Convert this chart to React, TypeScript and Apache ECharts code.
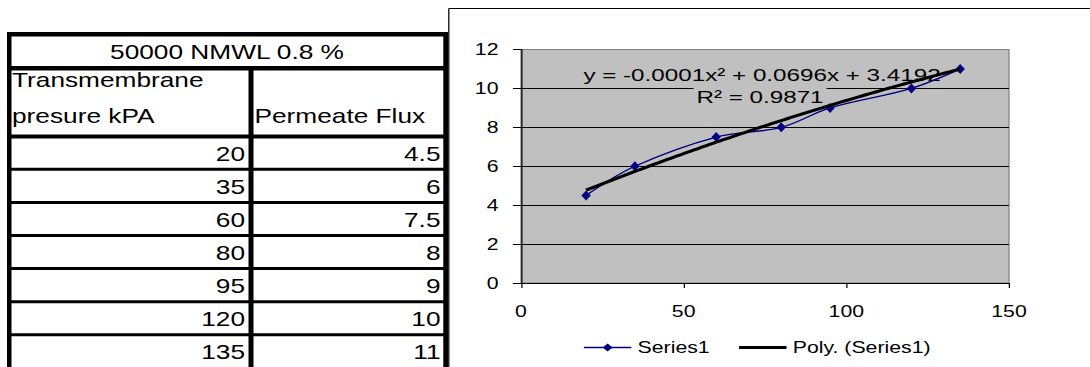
import { useEffect, useRef } from "react";
import * as echarts from "echarts";

// ---- data ----
const tableTitle = "50000 NMWL 0.8 %";
const headerPressure = ["Transmembrane", "presure kPA"];
const headerFlux = "Permeate Flux";
const pressureKPa = [20, 35, 60, 80, 95, 120, 135];
const permeateFlux = [4.5, 6, 7.5, 8, 9, 10, 11];
// second-order trendline: a·x² + b·x + c
const polyCoef = [-0.0001, 0.0696, 3.4192];
const polyR2 = 0.9871;
const seriesName = "Series1";
const trendName = "Poly. (Series1)";
const xAxisRange = { min: 0, max: 150, step: 50 };
const yAxisRange = { min: 0, max: 12, step: 2 };

// ---- layout ----
const OUT_W = 1090;
const H = 367;
const S = 1.25; // horizontal stretch applied to the whole drawing
const IN_W = OUT_W / S;
const FONT = '"Liberation Sans", Arial, Helvetica, sans-serif';

const sx = (v: number) => v / S;

const fmtCoef = (v: number) => v.toFixed(4);
const equationText = `y = ${fmtCoef(polyCoef[0])}x² + ${fmtCoef(polyCoef[1])}x + ${fmtCoef(polyCoef[2])}`;
const r2Text = `R² = ${polyR2.toFixed(4)}`;

function trendPoints(): number[][] {
  const pts: number[][] = [];
  const x0 = pressureKPa[0];
  const x1 = pressureKPa[pressureKPa.length - 1];
  for (let x = x0; x <= x1; x += 1) {
    pts.push([x, polyCoef[0] * x * x + polyCoef[1] * x + polyCoef[2]]);
  }
  return pts;
}

function bar(x0: number, y0: number, x1: number, y1: number) {
  return {
    type: "rect",
    silent: true,
    shape: { x: sx(x0), y: y0, width: sx(x1 - x0), height: y1 - y0 },
    style: { fill: "#000" },
  };
}

function cellText(text: string, x: number, y: number, align: string) {
  return {
    type: "text",
    silent: true,
    x: sx(x),
    y,
    style: {
      text,
      fill: "#000",
      fontSize: 21,
      fontFamily: FONT,
      align,
      verticalAlign: "middle",
    },
  };
}

function buildTable() {
  const els: any[] = [];
  // outer frame and header rules
  els.push(bar(7, 32, 448, 36.5));
  els.push(bar(7, 32, 11.5, H));
  els.push(bar(443.3, 32, 448, H));
  els.push(bar(7, 66, 448, 70.5));
  els.push(bar(248.5, 66, 253.5, H));
  els.push(bar(7, 134.5, 448, 138.5));
  const pitch = 33.1;
  for (let k = 0; k < pressureKPa.length - 1; k++) {
    const c = 169.3 + pitch * k;
    els.push(bar(7, c - 1.5, 448, c + 1.5));
  }
  // texts
  els.push(cellText(tableTitle, 227, 51, "center"));
  els.push(cellText(headerPressure[0], 12, 79.5, "left"));
  els.push(cellText(headerPressure[1], 12, 115, "left"));
  els.push(cellText(headerFlux, 254.5, 115.5, "left"));
  pressureKPa.forEach((p, k) => {
    const cy = 153 + pitch * k;
    els.push(cellText(String(p), 245, cy, "right"));
    els.push(cellText(String(permeateFlux[k]), 440.5, cy, "right"));
  });
  return els;
}

function buildChartDecor() {
  const frameX = sx(448.8);
  return [
    {
      type: "line",
      silent: true,
      shape: { x1: frameX, y1: 8.5, x2: frameX, y2: H },
      style: { stroke: "#000", lineWidth: 1 },
    },
    {
      type: "line",
      silent: true,
      shape: { x1: frameX, y1: 8.5, x2: IN_W, y2: 8.5 },
      style: { stroke: "#000", lineWidth: 1 },
    },
    {
      type: "text",
      silent: true,
      z: 1,
      x: sx(762),
      y: 75,
      scaleX: 1.14,
      style: {
        text: equationText,
        fill: "#000",
        fontSize: 17,
        fontFamily: FONT,
        align: "center",
        verticalAlign: "middle",
      },
    },
    {
      type: "text",
      silent: true,
      z: 1,
      x: sx(760),
      y: 97,
      scaleX: 1.14,
      style: {
        text: r2Text,
        fill: "#000",
        fontSize: 17,
        fontFamily: FONT,
        align: "center",
        verticalAlign: "middle",
        backgroundColor: "#C0C0C0",
        padding: [1, 2, 1, 2],
      },
    },
  ];
}

export default function App() {
  const ref = useRef<HTMLDivElement>(null);

  useEffect(() => {
    if (!ref.current) return;
    const chart = echarts.init(ref.current, null, { renderer: "svg" });
    chart.setOption({
      animation: false,
      backgroundColor: "#fff",
      textStyle: { fontFamily: FONT },
      grid: {
        left: sx(521),
        right: IN_W - sx(1009),
        top: 49.5,
        bottom: H - 283,
        show: true,
        backgroundColor: "#C0C0C0",
        borderColor: "#808080",
        borderWidth: 1,
      },
      xAxis: {
        type: "value",
        min: xAxisRange.min,
        max: xAxisRange.max,
        interval: xAxisRange.step,
        axisLine: { show: true, onZero: false, lineStyle: { color: "#000", width: 1 } },
        axisTick: { show: true, length: 5, lineStyle: { color: "#000", width: 1 } },
        axisLabel: { color: "#000", fontSize: 17, fontFamily: FONT, margin: 20 },
        splitLine: { show: false },
      },
      yAxis: {
        type: "value",
        min: yAxisRange.min,
        max: yAxisRange.max,
        interval: yAxisRange.step,
        axisLine: { show: true, onZero: false, lineStyle: { color: "#000", width: 1 } },
        axisTick: { show: true, length: 6.5, lineStyle: { color: "#000", width: 1 } },
        axisLabel: { color: "#000", fontSize: 17, fontFamily: FONT, margin: 18 },
        splitLine: {
          show: true,
          showMinLine: false,
          showMaxLine: false,
          lineStyle: { color: "#000", width: 1 },
        },
      },
      legend: {
        left: sx(583),
        top: 339,
        padding: 0,
        itemWidth: 38,
        itemHeight: 10,
        itemGap: 22,
        textStyle: { color: "#000", fontSize: 17, fontFamily: FONT },
        data: [
          { name: seriesName, lineStyle: { width: 1.4 } },
          {
            name: trendName,
            lineStyle: { width: 3, color: "#000" },
            itemStyle: { color: "rgba(0,0,0,0)", borderWidth: 0, opacity: 0 },
          },
        ],
      },
      graphic: [...buildTable(), ...buildChartDecor()],
      series: [
        {
          name: seriesName,
          type: "line",
          data: pressureKPa.map((x, i) => [x, permeateFlux[i]]),
          smooth: 0.35,
          symbol: "diamond",
          symbolSize: [7.5, 10],
          lineStyle: { color: "#000080", width: 1.4 },
          itemStyle: { color: "#000080" },
          z: 2,
        },
        {
          name: trendName,
          type: "line",
          data: trendPoints(),
          showSymbol: false,
          symbol: "none",
          lineStyle: { color: "#000", width: 3 },
          itemStyle: { color: "#000" },
          z: 3,
        },
      ],
    });
    return () => chart.dispose();
  }, []);

  return (
    <div
      style={{
        position: "fixed",
        left: 0,
        top: 0,
        width: OUT_W,
        height: H,
        overflow: "hidden",
        background: "#fff",
      }}
    >
      <div
        ref={ref}
        style={{
          width: IN_W,
          height: H,
          transform: `scaleX(${S})`,
          transformOrigin: "0 0",
        }}
      />
    </div>
  );
}
